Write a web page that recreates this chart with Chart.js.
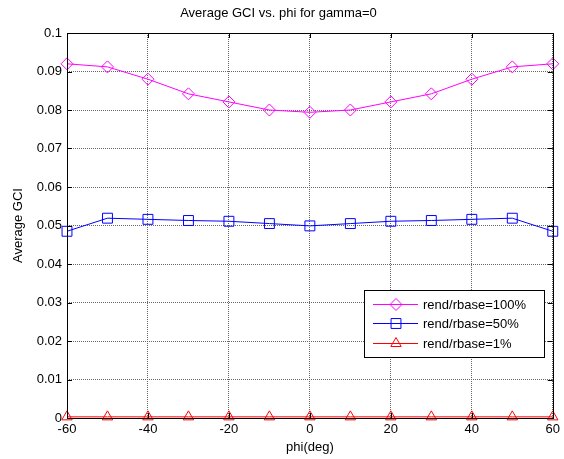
<!DOCTYPE html>
<html><head><meta charset="utf-8">
<script src="https://cdn.jsdelivr.net/npm/chart.js@4.4.0/dist/chart.umd.min.js"></script>
<style>html,body{margin:0;padding:0;background:#fff}#wrap{width:564px;height:459px}</style>
</head><body><div id="wrap"><canvas id="c" width="564" height="459"></canvas></div>
<script>
const phi = [-60,-50,-40,-30,-20,-10,0,10,20,30,40,50,60];
const gci100 = [0.0920,0.0912,0.0880,0.0842,0.0821,0.0800,0.0794,0.0800,0.0821,0.0842,0.0880,0.0912,0.0920];
const gci50  = [0.0485,0.0519,0.0516,0.0513,0.0511,0.0505,0.0499,0.0505,0.0511,0.0513,0.0516,0.0519,0.0485];
const gci1   = [0.0003,0.0003,0.0003,0.0003,0.0003,0.0003,0.0003,0.0003,0.0003,0.0003,0.0003,0.0003,0.0003];
const labels = ['rend/rbase=100%','rend/rbase=50%','rend/rbase=1%'];
const colors = ['#ff00ff','#0000ff','#ff0000'];
const markers = ['rectRot','rect','triangle'];
const radii = [6,7,6];
const xTicks = [-60,-40,-20,0,20,40,60];

const series = [gci100, gci50, gci1];
const datasets = series.map((s,i)=>({
  label: labels[i],
  data: phi.map((p,j)=>({x:p,y:s[j]})),
  borderColor: colors[i], backgroundColor: 'rgba(0,0,0,0)',
  borderWidth: 1, pointStyle: markers[i], pointRadius: radii[i],
  pointBorderColor: colors[i], pointBackgroundColor:'rgba(0,0,0,0)', pointBorderWidth:1,
  tension: 0, clip: false
}));

const FONT = 'Arial, "Liberation Sans", sans-serif';

const boxPlugin = {
  id:'box',
  afterDatasetsDraw(chart){
    const {ctx, chartArea:a, scales} = chart;
    ctx.save();
    ctx.strokeStyle='#000'; ctx.lineWidth=1; ctx.setLineDash([]);
    ctx.strokeRect(Math.round(a.left)+0.5, Math.round(a.top)+0.5, Math.round(a.right-a.left), Math.round(a.bottom-a.top));
    const tl=5;
    ctx.beginPath();
    xTicks.forEach(v=>{
      const x=Math.round(scales.x.getPixelForValue(v))+0.5;
      ctx.moveTo(x,a.bottom); ctx.lineTo(x,a.bottom-tl);
      ctx.moveTo(x,a.top); ctx.lineTo(x,a.top+tl);
    });
    for(let k=0;k<=10;k++){
      const y=Math.round(scales.y.getPixelForValue(k/100))+0.5;
      ctx.moveTo(a.left,y); ctx.lineTo(a.left+tl,y);
      ctx.moveTo(a.right,y); ctx.lineTo(a.right-tl,y);
    }
    ctx.stroke();
    // legend
    const L=364.5,T=290.5,W=180,H=67;
    ctx.fillStyle='#fff'; ctx.fillRect(L,T,W,H);
    ctx.strokeStyle='#000'; ctx.strokeRect(L,T,W,H);
    ctx.font='13px '+FONT; ctx.textBaseline='middle'; ctx.textAlign='left';
    const rows=[304,323,343];
    chart.data.datasets.forEach((d,i)=>{
      const y=rows[i]+0.5;
      ctx.strokeStyle=d.borderColor; ctx.lineWidth=1;
      ctx.beginPath(); ctx.moveTo(373,y); ctx.lineTo(418,y); ctx.stroke();
      ctx.fillStyle='rgba(0,0,0,0)';
      ctx.strokeStyle=d.borderColor;
      Chart.helpers.drawPoint(ctx,{pointStyle:d.pointStyle,radius:d.pointRadius,borderWidth:1,rotation:0},396,y);
      ctx.fillStyle='#000';
      ctx.fillText(d.label,423,rows[i]+1);
    });
    ctx.restore();
  }
};

new Chart(document.getElementById('c'),{
  type:'line',
  data:{datasets},
  options:{
    responsive:false, animation:false,
    layout:{padding:{left:0,right:7,top:0,bottom:0}},
    plugins:{
      legend:{display:false}, tooltip:{enabled:false},
      title:{display:true,text:'Average GCI vs. phi for gamma=0',color:'#000',
        font:{family:FONT,size:13,weight:'normal'},padding:{top:6,bottom:11.4}}
    },
    scales:{
      x:{type:'linear',min:-60,max:60,
        afterBuildTicks(s){s.ticks=xTicks.map(v=>({value:v}));},
        afterFit(s){s.height=41;},
        ticks:{color:'#000',font:{family:FONT,size:13},padding:4,maxRotation:0},
        grid:{color:'#666',drawTicks:false},
        border:{display:false,dash:[1,1]},
        title:{display:true,text:'phi(deg)',color:'#000',font:{family:FONT,size:13},padding:{top:4,bottom:4}}
      },
      y:{type:'linear',min:0,max:0.1,
        afterBuildTicks(s){const t=[];for(let k=0;k<=10;k++)t.push({value:k/100});s.ticks=t;},
        afterFit(s){s.width=67;},
        ticks:{color:'#000',font:{family:FONT,size:13},padding:5,callback:v=>String(+v.toFixed(2))},
        grid:{color:'#666',drawTicks:false},
        border:{display:false,dash:[1,1]},
        title:{display:true,text:'Average GCI',color:'#000',font:{family:FONT,size:13},padding:{top:11,bottom:11}}
      }
    }
  },
  plugins:[boxPlugin]
});
</script></body></html>
